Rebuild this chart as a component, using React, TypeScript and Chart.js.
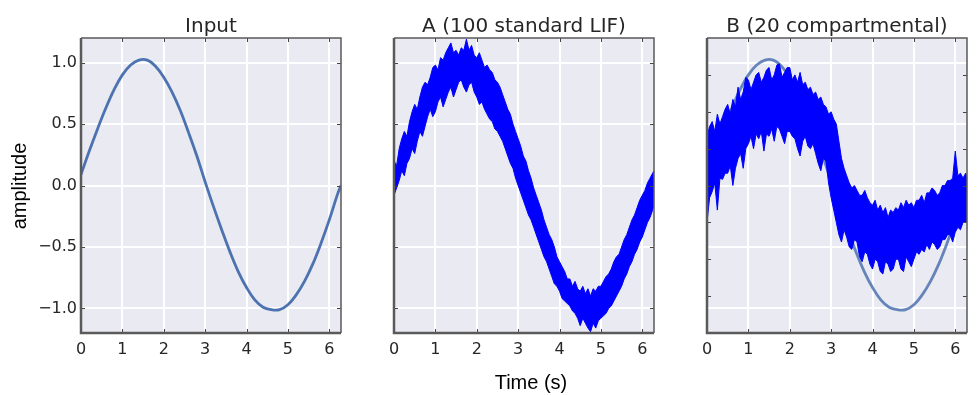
import React, { useEffect, useRef } from "react";
import { Chart, registerables } from "chart.js";

Chart.register(...registerables);

// ---------- data ----------
const INPUT_TIME = [0, 0.2, 0.4, 0.6, 0.8, 1.0, 1.2, 1.4, 1.6, 1.8, 2.0, 2.2, 2.4, 2.6, 2.8, 3.0, 3.2, 3.4, 3.6, 3.8, 4.0, 4.2, 4.4, 4.6, 4.8, 5.0, 5.2, 5.4, 5.6, 5.8, 6.0, 6.2, 6.283];
const INPUT_VALUES = [0.09, 0.28, 0.46, 0.63, 0.78, 0.9, 0.98, 1.02, 1.02, 0.97, 0.88, 0.76, 0.61, 0.43, 0.24, 0.03, -0.17, -0.36, -0.54, -0.7, -0.83, -0.93, -0.99, -1.01, -1.01, -0.97, -0.89, -0.78, -0.64, -0.47, -0.28, -0.07, 0.0];

const NOISE_TIME = [
  0, 0.0625, 0.125, 0.1875, 0.25, 0.3125, 0.375, 0.4375, 0.5, 0.5625, 0.625, 0.6875, 0.75, 0.8125, 0.875, 0.9375,
  1, 1.0625, 1.125, 1.1875, 1.25, 1.3125, 1.375, 1.4375, 1.5, 1.5625, 1.625, 1.6875, 1.75, 1.8125, 1.875, 1.9375,
  2, 2.0625, 2.125, 2.1875, 2.25, 2.3125, 2.375, 2.4375, 2.5, 2.5625, 2.625, 2.6875, 2.75, 2.8125, 2.875, 2.9375,
  3, 3.0625, 3.125, 3.1875, 3.25, 3.3125, 3.375, 3.4375, 3.5, 3.5625, 3.625, 3.6875, 3.75, 3.8125, 3.875, 3.9375,
  4, 4.0625, 4.125, 4.1875, 4.25, 4.3125, 4.375, 4.4375, 4.5, 4.5625, 4.625, 4.6875, 4.75, 4.8125, 4.875, 4.9375,
  5, 5.0625, 5.125, 5.1875, 5.25, 5.3125, 5.375, 5.4375, 5.5, 5.5625, 5.625, 5.6875, 5.75, 5.8125, 5.875, 5.9375,
  6, 6.0625, 6.125, 6.1875, 6.25, 6.283,
];

const A_UPPER = [
  0.2, 0.16, 0.3, 0.38, 0.44, 0.4, 0.52, 0.6, 0.66, 0.62, 0.72, 0.8, 0.84, 0.82, 0.88, 0.96,
  0.98, 0.94, 1.04, 1.02, 1.08, 1.12, 1.16, 1.08, 1.1, 1.06, 1.12, 1.1, 1.19, 1.1, 1.14, 1.06,
  1.04, 1.08, 1.02, 0.96, 0.98, 0.94, 0.92, 0.86, 0.84, 0.8, 0.74, 0.68, 0.62, 0.58, 0.5, 0.44,
  0.38, 0.32, 0.24, 0.2, 0.12, 0.06, -0.02, -0.08, -0.14, -0.2, -0.28, -0.34, -0.4, -0.44, -0.5, -0.58,
  -0.62, -0.66, -0.7, -0.76, -0.76, -0.82, -0.78, -0.84, -0.86, -0.82, -0.88, -0.84, -0.9, -0.84, -0.86, -0.82,
  -0.82, -0.78, -0.74, -0.72, -0.68, -0.62, -0.58, -0.56, -0.5, -0.44, -0.4, -0.34, -0.28, -0.24, -0.18, -0.12,
  -0.08, -0.04, 0.02, 0.06, 0.1, 0.12,
];
const A_LOWER = [
  -0.08, -0.02, 0.04, 0.12, 0.08, 0.18, 0.22, 0.3, 0.26, 0.36, 0.44, 0.4, 0.48, 0.56, 0.62, 0.56,
  0.6, 0.68, 0.72, 0.64, 0.7, 0.76, 0.8, 0.72, 0.78, 0.84, 0.86, 0.8, 0.76, 0.82, 0.84, 0.76,
  0.72, 0.66, 0.68, 0.62, 0.58, 0.54, 0.52, 0.46, 0.44, 0.4, 0.36, 0.3, 0.24, 0.18, 0.14, 0.06,
  0.0, -0.06, -0.12, -0.18, -0.24, -0.28, -0.34, -0.4, -0.46, -0.52, -0.58, -0.62, -0.68, -0.74, -0.8, -0.82,
  -0.86, -0.92, -0.94, -0.96, -0.98, -1.02, -1.04, -1.08, -1.14, -1.08, -1.12, -1.16, -1.19, -1.12, -1.16, -1.1,
  -1.08, -1.06, -1.04, -1.0, -0.98, -0.94, -0.9, -0.86, -0.82, -0.76, -0.72, -0.66, -0.62, -0.56, -0.52, -0.46,
  -0.42, -0.36, -0.3, -0.26, -0.2, -0.16,
];

const B_UPPER = [
  0.4, 0.48, 0.52, 0.44, 0.58, 0.5, 0.56, 0.62, 0.66, 0.58, 0.7, 0.64, 0.8, 0.7, 0.76, 0.88,
  0.86, 0.78, 0.84, 0.9, 0.92, 0.84, 0.88, 0.94, 0.96, 0.86, 0.9, 0.98, 0.99, 0.88, 0.92, 0.96,
  0.96, 0.86, 0.9, 0.84, 0.92, 0.82, 0.84, 0.78, 0.8, 0.74, 0.76, 0.7, 0.72, 0.66, 0.64, 0.58,
  0.6, 0.54, 0.5, 0.36, 0.22, 0.14, 0.08, 0.02, -0.02, 0.0, -0.04, -0.08, -0.08, -0.04, -0.1, -0.14,
  -0.16, -0.12, -0.2, -0.16, -0.22, -0.18, -0.26, -0.2, -0.22, -0.18, -0.2, -0.14, -0.18, -0.12, -0.16, -0.14,
  -0.18, -0.12, -0.12, -0.08, -0.14, -0.06, -0.06, -0.02, -0.04, -0.08, -0.06, 0.0, 0.0, 0.04, 0.04, 0.06,
  0.28, 0.08, 0.1, 0.06, 0.1, 0.06,
];
const B_LOWER = [
  -0.3, -0.1, -0.05, 0.02, -0.2, 0.06, 0.05, 0.1, 0.1, 0.16, 0.0, 0.14, 0.22, 0.26, 0.14, 0.3,
  0.34, 0.4, 0.3, 0.42, 0.38, 0.44, 0.28, 0.42, 0.4, 0.46, 0.36, 0.48, 0.46, 0.4, 0.34, 0.44,
  0.44, 0.4, 0.38, 0.3, 0.24, 0.36, 0.4, 0.32, 0.3, 0.34, 0.26, 0.18, 0.12, 0.22, 0.2, 0.02,
  -0.1, -0.2, -0.3, -0.4, -0.46, -0.36, -0.42, -0.5, -0.52, -0.44, -0.46, -0.58, -0.62, -0.54, -0.56, -0.64,
  -0.68, -0.6, -0.62, -0.7, -0.72, -0.62, -0.64, -0.7, -0.68, -0.6, -0.6, -0.68, -0.7, -0.58, -0.62, -0.66,
  -0.6, -0.54, -0.56, -0.52, -0.54, -0.48, -0.52, -0.46, -0.48, -0.52, -0.5, -0.44, -0.44, -0.4, -0.4, -0.46,
  -0.38, -0.34, -0.36, -0.3, -0.3, -0.28,
];

const X_TICKS = [0, 1, 2, 3, 4, 5, 6];
const Y_TICKS = [-1.0, -0.5, 0.0, 0.5, 1.0];
const B_Y_MARKS = [-0.9, -0.6, -0.3, 0.0, 0.3, 0.6, 0.9];
const TITLES = ["Input", "A (100 standard LIF)", "B (20 compartmental)"];
const X_LABEL = "Time (s)";
const Y_LABEL = "amplitude";

// ---------- layout ----------
const AREA_LEFTS = [81, 394, 707];
const AREA_W = 260;
const AXIS_W = 81;
const CANVAS_W = AXIS_W + AREA_W + 6;
const CANVAS_H = 395;
const AREA_TOP = 38;
const AREA_BOTTOM = 333;

const INPUT_COLOR = "#4C72B0";
const NOISE_COLOR = "#0000FF";
const TICK_FONT = { family: "'DejaVu Sans'", size: 16 };

const pts = (xs: number[], ys: number[]) => xs.map((x, i) => ({ x, y: ys[i] }));

const fmtY = (v: number) => {
  const s = Math.abs(v).toFixed(1);
  return v < 0 ? "\u2212" + s : s;
};

function framePlugin(yMarks: number[]) {
  return {
    id: "frame",
    beforeDraw(chart: any) {
      const { ctx, chartArea } = chart;
      ctx.save();
      ctx.fillStyle = "#EAEAF2";
      ctx.fillRect(chartArea.left, chartArea.top, chartArea.right - chartArea.left, chartArea.bottom - chartArea.top);
      ctx.restore();
    },
    afterDraw(chart: any) {
      const { ctx, chartArea, scales } = chart;
      const { left, right, top, bottom } = chartArea;
      const L = 4;
      ctx.save();
      ctx.strokeStyle = "#444";
      ctx.lineWidth = 1;
      ctx.beginPath();
      X_TICKS.forEach((v) => {
        const px = Math.round(scales.x.getPixelForValue(v)) + 0.5;
        ctx.moveTo(px, bottom);
        ctx.lineTo(px, bottom - L);
        ctx.moveTo(px, top);
        ctx.lineTo(px, top + L);
      });
      yMarks.forEach((v) => {
        const py = Math.round(scales.y.getPixelForValue(v)) + 0.5;
        ctx.moveTo(left, py);
        ctx.lineTo(left + L, py);
        ctx.moveTo(right, py);
        ctx.lineTo(right - L, py);
      });
      ctx.stroke();
      ctx.strokeStyle = "#5a5a5a";
      ctx.lineWidth = 1.5;
      ctx.beginPath();
      ctx.moveTo(left, top);
      ctx.lineTo(right, top);
      ctx.lineTo(right, bottom);
      ctx.stroke();
      ctx.lineWidth = 2.5;
      ctx.beginPath();
      ctx.moveTo(left, top);
      ctx.lineTo(left, bottom);
      ctx.lineTo(right, bottom);
      ctx.stroke();
      ctx.restore();
    },
  };
}

function Panel({ index, datasets, showY, yMarks }: { index: number; datasets: any[]; showY: boolean; yMarks: number[] }) {
  const ref = useRef<HTMLCanvasElement | null>(null);
  useEffect(() => {
    if (!ref.current) return;
    const chart = new Chart(ref.current, {
      type: "line",
      data: { datasets },
      options: {
        responsive: false,
        animation: false,
        devicePixelRatio: 1,
        layout: { padding: { left: 0, right: CANVAS_W - AXIS_W - AREA_W, top: AREA_TOP, bottom: 0 } },
        plugins: { legend: { display: false }, tooltip: { enabled: false }, title: { display: false } },
        elements: { point: { radius: 0 } },
        scales: {
          x: {
            type: "linear",
            min: 0,
            max: 6.2832,
            afterBuildTicks: (s: any) => {
              s.ticks = X_TICKS.map((v) => ({ value: v }));
            },
            afterFit: (s: any) => {
              s.height = CANVAS_H - AREA_BOTTOM;
            },
            grid: { color: "#FFFFFF", lineWidth: 2, drawTicks: false },
            border: { display: false },
            ticks: { padding: 7, font: TICK_FONT, color: "#262626", maxRotation: 0, callback: (v: any) => String(v) },
          },
          y: {
            type: "linear",
            min: -1.2,
            max: 1.2,
            afterBuildTicks: (s: any) => {
              s.ticks = Y_TICKS.map((v) => ({ value: v }));
            },
            afterFit: (s: any) => {
              s.width = AXIS_W;
            },
            grid: { color: "#FFFFFF", lineWidth: 2, drawTicks: false },
            border: { display: false },
            ticks: { display: showY, padding: 4, font: TICK_FONT, color: "#262626", callback: (v: any) => fmtY(Number(v)) },
          },
        },
      },
      plugins: [framePlugin(yMarks)],
    } as any);
    return () => chart.destroy();
  }, []);
  return (
    <canvas
      ref={ref}
      width={CANVAS_W}
      height={CANVAS_H}
      style={{ position: "absolute", left: AREA_LEFTS[index] - AXIS_W, top: 0, width: CANVAS_W, height: CANVAS_H }}
    />
  );
}

const inputLine = (alpha: number) => ({
  data: pts(INPUT_TIME, INPUT_VALUES),
  borderColor: alpha < 1 ? `rgba(76,114,176,${alpha})` : INPUT_COLOR,
  borderWidth: 2.8,
  pointRadius: 0,
  fill: false,
  tension: 0.4,
});

const band = (upper: number[], lower: number[]) => [
  { data: pts(NOISE_TIME, upper), borderColor: NOISE_COLOR, borderWidth: 1, pointRadius: 0, fill: false, tension: 0 },
  { data: pts(NOISE_TIME, lower), borderColor: NOISE_COLOR, borderWidth: 1, pointRadius: 0, fill: "-1", backgroundColor: NOISE_COLOR, tension: 0 },
];

export default function App() {
  const titleStyle = (i: number): React.CSSProperties => ({
    position: "absolute",
    left: AREA_LEFTS[i] + AREA_W / 2 - 200,
    width: 400,
    top: 13,
    height: 20,
    lineHeight: "20px",
    textAlign: "center",
    font: "20px 'DejaVu Sans'",
    color: "#262626",
    whiteSpace: "nowrap",
  });
  return (
    <div style={{ position: "fixed", left: 0, top: 0, width: 980, height: 395, background: "#fff", overflow: "hidden" }}>
      <Panel index={0} datasets={[inputLine(1)]} showY={true} yMarks={Y_TICKS} />
      <Panel index={1} datasets={band(A_UPPER, A_LOWER)} showY={false} yMarks={Y_TICKS} />
      <Panel index={2} datasets={[...band(B_UPPER, B_LOWER), inputLine(0.85)]} showY={false} yMarks={B_Y_MARKS} />
      {TITLES.map((t, i) => (
        <div key={t} style={titleStyle(i)}>{t}</div>
      ))}
      <div
        style={{
          position: "absolute",
          left: 531 - 150,
          width: 300,
          top: 371,
          height: 20,
          lineHeight: "20px",
          textAlign: "center",
          font: "20px 'Liberation Sans'",
          color: "#000",
        }}
      >
        {X_LABEL}
      </div>
      <div
        style={{
          position: "absolute",
          left: 17.5 - 100,
          top: 185.5 - 10,
          width: 200,
          height: 20,
          lineHeight: "20px",
          textAlign: "center",
          font: "20px 'Liberation Sans'",
          color: "#000",
          transform: "rotate(-90deg)",
        }}
      >
        {Y_LABEL}
      </div>
    </div>
  );
}
